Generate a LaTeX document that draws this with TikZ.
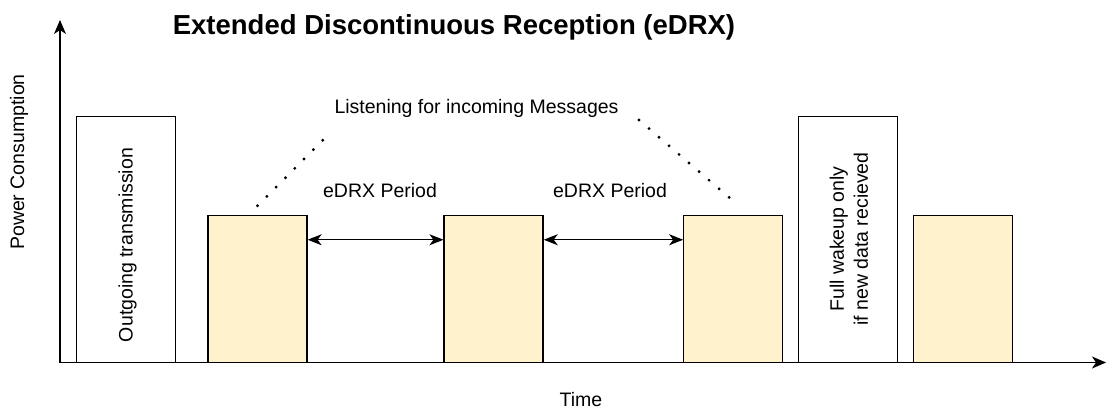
\documentclass[tikz,border=0pt]{standalone}
\usepackage{fontspec}
\setmainfont{Liberation Sans}
\usetikzlibrary{arrows.meta}
\definecolor{yfill}{HTML}{FFF2CC}
\begin{document}
\begin{tikzpicture}[x=1pt,y=-1pt,
  box/.style={draw=black, line width=1.3pt, minimum width=99pt, inner sep=0pt},
  tallbox/.style={box, fill=white, minimum height=246pt},
  shortbox/.style={box, fill=yfill, minimum height=147pt},
  lbl/.style={font=\fontsize{19.5}{24}\selectfont, inner sep=0pt},
  axisline/.style={line width=1.3pt, -{Stealth[length=14pt,width=12pt,inset=4pt]}},
  period/.style={line width=1.3pt, {Stealth[length=14pt,width=11pt,inset=4pt]}-{Stealth[length=14pt,width=11pt,inset=4pt]}},
  dots/.style={line width=3.2pt, line cap=round, dash pattern=on 0pt off 13.2pt}]
\useasboundingbox (0,0) rectangle (1107,414);

% axes
\coordinate (O) at (60,362.5);
\coordinate (ytop) at (60,20);
\coordinate (xend) at (1106,362.5);
\draw[axisline] (O) -- (ytop);
\draw[axisline] (O) -- (xend);

% boxes
\node[tallbox] (b1) at (125.7,239.6) {};
\node[shortbox] (y1) at (257.5,288.9) {};
\node[shortbox] (y2) at (493.6,288.9) {};
\node[shortbox] (y3) at (733.3,288.9) {};
\node[tallbox] (fw) at (847.8,239.6) {};
\node[shortbox] (y4) at (962.8,288.9) {};

% box texts
\node[lbl, rotate=90, anchor=base] (t1) at (132.7,245) {Outgoing transmission};
\node[lbl, rotate=90, align=center] (t2) at (849,239) {Full wakeup only\\if new data recieved};

% period arrows
\draw[period] ([yshift=-25pt]y1.north east) -- ([yshift=-25pt]y2.north west);
\draw[period] ([yshift=-25pt]y2.north east) -- ([yshift=-25pt]y3.north west);
\node[lbl, anchor=base] (p1) at (380,197) {eDRX Period};
\node[lbl, anchor=base] (p2) at (610,197) {eDRX Period};

% listening label and dotted leaders
\node[lbl, anchor=base] (listen) at (476.5,114) {Listening for incoming Messages};
\coordinate (d1top) at (332,131);
\coordinate (d2top) at (639,120);
\draw[dots] ([yshift=9pt]y1.north) -- (d1top);
\draw[dots] (d2top) -- ([xshift=5.5pt,yshift=9pt]y3.north);

% axis titles and title
\node[lbl, rotate=90, anchor=base] (ylab) at (24,162) {Power Consumption};
\node[lbl, anchor=base] (xlab) at (581,406) {Time};
\node[font=\bfseries\fontsize{27.5}{31}\selectfont, inner sep=0pt, anchor=base] (title) at (454,35) {Extended Discontinuous Reception (eDRX)};
\end{tikzpicture}
\end{document}
